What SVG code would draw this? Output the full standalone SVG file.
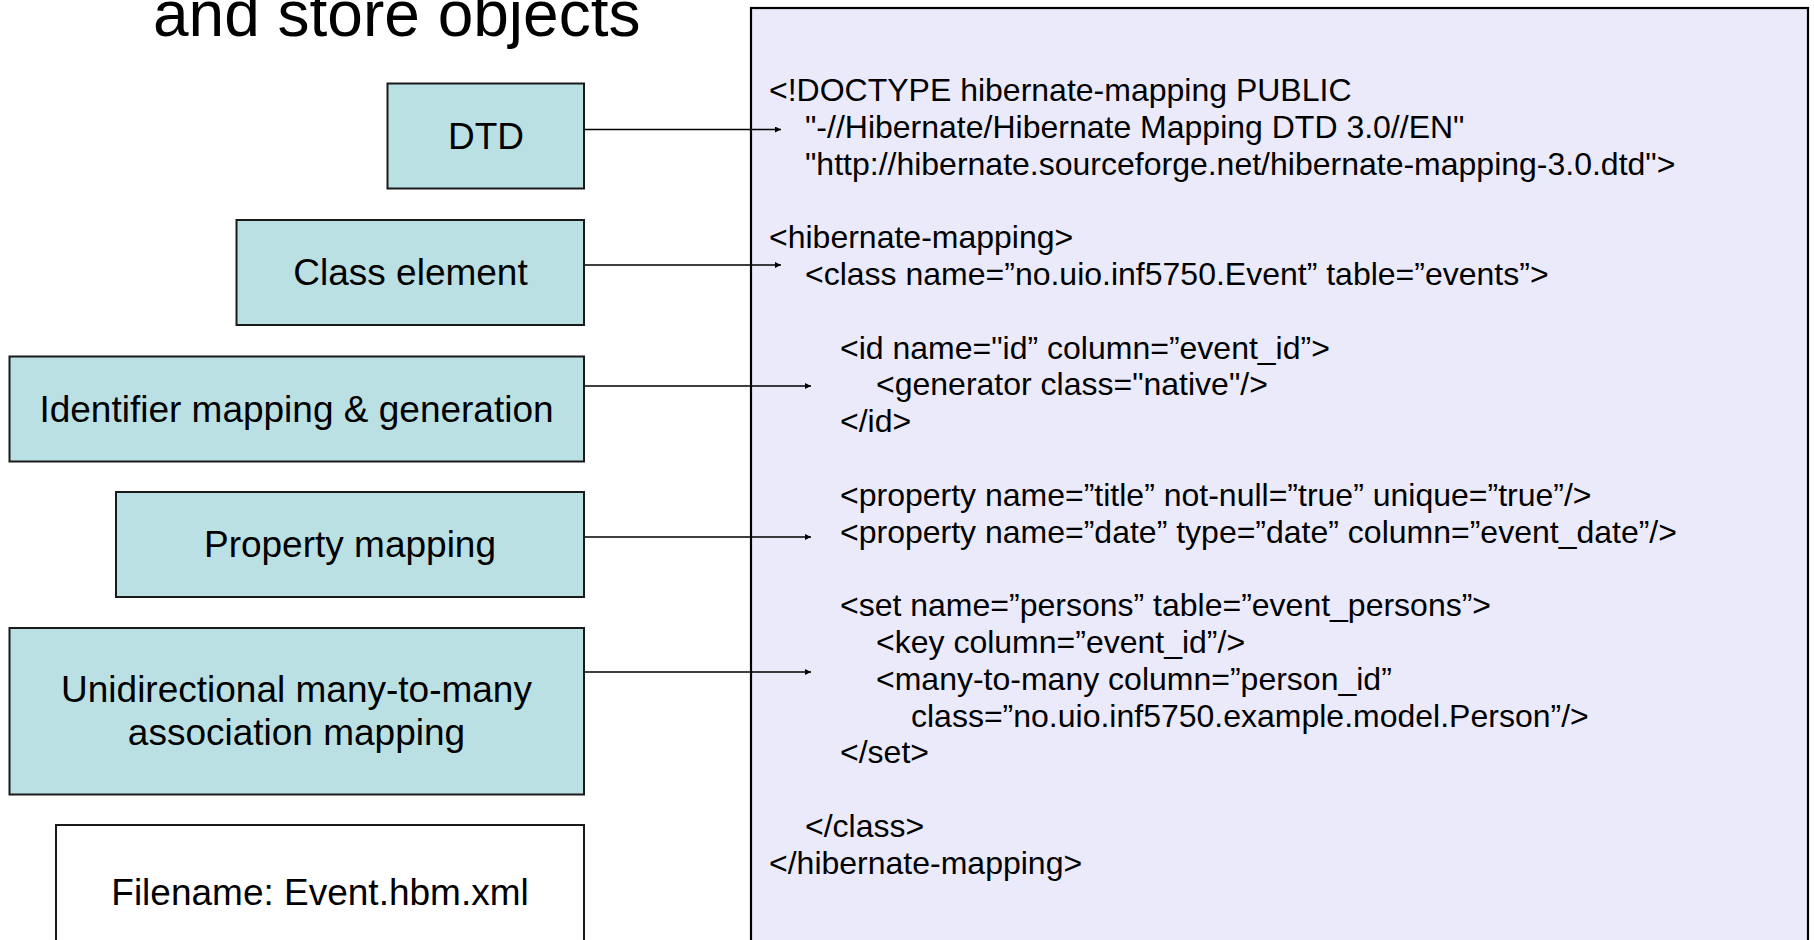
<svg xmlns="http://www.w3.org/2000/svg" width="1814" height="940" viewBox="0 0 1814 940">
<style>
text{font-family:"Liberation Sans",Arial,sans-serif;fill:#000}
.lbl{font-size:37px;text-anchor:middle}
.code{font-size:32px}
.box{fill:#BBE0E3;stroke:#1a1a1a;stroke-width:2}
.conn{stroke:#000;stroke-width:1.6;fill:none}
</style>
<defs>
<marker id="ah" viewBox="0 0 10 10" refX="10" refY="5" markerWidth="6" markerHeight="6" markerUnits="userSpaceOnUse" orient="auto">
<path d="M0,0 L10,5 L0,10 z" fill="#000"/>
</marker>
</defs>
<rect width="1814" height="940" fill="#fff"/>
<g id="title"><text x="153" y="36" font-size="64">and store objects</text></g>
<g id="code">
<rect x="751" y="8" width="1057" height="940" fill="#EAEAFB" stroke="#000" stroke-width="2.2"/>
<text class="code" x="769" y="101">&lt;!DOCTYPE hibernate-mapping PUBLIC</text>
<text class="code" x="805" y="137.8">"-//Hibernate/Hibernate Mapping DTD 3.0//EN"</text>
<text class="code" x="805" y="174.6">"http://hibernate.sourceforge.net/hibernate-mapping-3.0.dtd"&gt;</text>
<text class="code" x="769" y="248.2">&lt;hibernate-mapping&gt;</text>
<text class="code" x="805" y="285">&lt;class name=”no.uio.inf5750.Event” table=”events”&gt;</text>
<text class="code" x="840" y="358.6">&lt;id name="id” column=”event_id”&gt;</text>
<text class="code" x="876" y="395.4">&lt;generator class="native"/&gt;</text>
<text class="code" x="840" y="432.2">&lt;/id&gt;</text>
<text class="code" x="840" y="505.8">&lt;property name=”title” not-null=”true” unique=”true”/&gt;</text>
<text class="code" x="840" y="542.6">&lt;property name=”date” type=”date” column=”event_date”/&gt;</text>
<text class="code" x="840" y="616.2">&lt;set name=”persons” table=”event_persons”&gt;</text>
<text class="code" x="876" y="653">&lt;key column=”event_id”/&gt;</text>
<text class="code" x="876" y="689.8">&lt;many-to-many column=”person_id”</text>
<text class="code" x="911" y="726.6">class=”no.uio.inf5750.example.model.Person”/&gt;</text>
<text class="code" x="840" y="763.4">&lt;/set&gt;</text>
<text class="code" x="805" y="837">&lt;/class&gt;</text>
<text class="code" x="769" y="873.8">&lt;/hibernate-mapping&gt;</text>
</g>
<g id="dtd"><rect class="box" x="387.5" y="83.5" width="196.5" height="105"/><text class="lbl" x="486" y="149">DTD</text></g>
<g id="class-element"><rect class="box" x="236.5" y="220" width="347.5" height="105"/><text class="lbl" x="410.5" y="285">Class element</text></g>
<g id="identifier"><rect class="box" x="9.5" y="356.5" width="574.5" height="105"/><text class="lbl" x="296.5" y="422">Identifier mapping &amp; generation</text></g>
<g id="property"><rect class="box" x="116" y="492" width="468" height="105"/><text class="lbl" x="350" y="557">Property mapping</text></g>
<g id="association"><rect class="box" x="9.5" y="628" width="574.5" height="166.5" stroke="#000" stroke-width="2.6"/><text class="lbl" x="296.5" y="702">Unidirectional many-to-many</text><text class="lbl" x="296.5" y="745">association mapping</text></g>
<g id="filename"><rect x="56" y="825" width="528" height="130" fill="#fff" stroke="#1a1a1a" stroke-width="2"/><text class="lbl" x="320" y="905">Filename: Event.hbm.xml</text></g>
<g id="connectors">
<line class="conn" x1="585" y1="129.5" x2="781" y2="129.5" marker-end="url(#ah)"/>
<line class="conn" x1="585" y1="265" x2="781" y2="265" marker-end="url(#ah)"/>
<line class="conn" x1="585" y1="386" x2="811" y2="386" marker-end="url(#ah)"/>
<line class="conn" x1="585" y1="537" x2="811" y2="537" marker-end="url(#ah)"/>
<line class="conn" x1="585" y1="672" x2="811" y2="672" marker-end="url(#ah)"/>
</g>
</svg>
